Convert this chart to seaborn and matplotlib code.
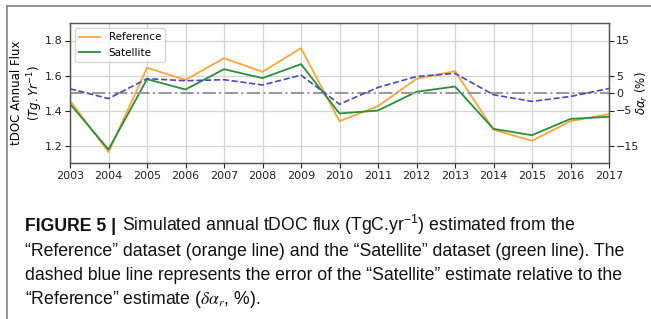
import matplotlib
matplotlib.use("Agg")
import matplotlib.pyplot as plt
import seaborn as sns
import pandas as pd
from matplotlib.lines import Line2D

years = [2003, 2004, 2005, 2006, 2007, 2008, 2009, 2010, 2011, 2012, 2013, 2014, 2015, 2016, 2017]
reference = [1.457, 1.162, 1.644, 1.575, 1.699, 1.621, 1.756, 1.339, 1.425, 1.581, 1.625, 1.290, 1.227, 1.339, 1.379]
satellite = [1.438, 1.177, 1.579, 1.520, 1.636, 1.585, 1.665, 1.383, 1.400, 1.507, 1.537, 1.295, 1.259, 1.352, 1.364]
rel_error = [1.2, -1.6, 4.1, 3.5, 3.8, 2.3, 5.1, -3.2, 1.6, 4.7, 5.6, -0.5, -2.4, -1.0, 1.3]
left_ticks = [1.2, 1.4, 1.6, 1.8]
right_ticks = [-15, -5, 0, 5, 15]
series_names = ["Reference", "Satellite"]

caption_head = "FIGURE 5 |"
caption_lines = [
    "Simulated annual tDOC flux (TgC.yr$^{-1}$) estimated from the",
    "\u201cReference\u201d dataset (orange line) and the \u201cSatellite\u201d dataset (green line). The",
    "dashed blue line represents the error of the \u201cSatellite\u201d estimate relative to the",
    "\u201cReference\u201d estimate ($\\delta\\alpha_r$, %).",
]

cap_font = "Liberation Sans"
plt.rcParams["mathtext.fontset"] = "dejavusans"
plt.rcParams["mathtext.rm"] = cap_font
plt.rcParams["mathtext.it"] = cap_font + ":italic"
plt.rcParams["mathtext.bf"] = cap_font + ":bold"

orange = "#ffa533"
green = "#2a8f3a"
blue = "#4848c2"
W, H = 651, 319

fig = plt.figure(figsize=(W / 100, H / 100), dpi=100)
ax = fig.add_axes([70 / W, 1 - 163 / H, 539 / W, 140 / H])

df = pd.DataFrame({"year": years, "Reference": reference, "Satellite": satellite})
sns.lineplot(data=df, x="year", y="Reference", ax=ax, color=orange, lw=1.3, label=series_names[0])
sns.lineplot(data=df, x="year", y="Satellite", ax=ax, color=green, lw=1.3, label=series_names[1])
ax.set_xlim(years[0], years[-1])
ax.set_ylim(1.1, 1.9)
ax.set_xticks(years)
ax.set_yticks(left_ticks)
ax.set_xlabel("")
ax.set_ylabel("tDOC Annual Flux\n$(Tg.Yr^{-1})$", fontsize=8.5)
ax.yaxis.set_label_coords(-25 / 539, 0.5)
ax.tick_params(labelsize=8, length=3.5, width=0.8, pad=2, colors="#222222")
ax.grid(True, color="#d4d4d4", lw=0.9)
ax.set_axisbelow(True)
for s in ax.spines.values():
    s.set_color("#555555")
    s.set_linewidth(0.9)
leg = ax.legend(loc="upper left", fontsize=7.5, frameon=True)

ax2 = ax.twinx()
ax2.axhline(0, color="#9a9a9a", ls="-.", lw=1.5, zorder=1)
sns.lineplot(x=years, y=rel_error, ax=ax2, color=blue, ls="--", lw=1.2, zorder=2)
ax2.set_ylim(-20, 20)
ax2.set_yticks(right_ticks)
ax2.set_yticklabels([f"{t}".replace("-", "\u2212") for t in right_ticks])
ax2.set_ylabel(r"$\delta\alpha_r$ (%)", fontsize=8.5)
ax2.yaxis.set_label_coords(1 + 25 / 539, 0.5)
ax2.tick_params(labelsize=8, length=3.5, width=0.8, pad=1.5, colors="#222222")
for s in ax2.spines.values():
    s.set_color("#555555")
    s.set_linewidth(0.9)

# frame lines
fig.add_artist(Line2D([7 / W, 1.0], [1 - 6 / H, 1 - 6 / H], color="#808080", lw=1.2, transform=fig.transFigure))
fig.add_artist(Line2D([7 / W, 7 / W], [1 - 6 / H, 0.0], color="#808080", lw=1.2, transform=fig.transFigure))

# caption: fit the font size so that line 2 spans the same width as the reference
renderer = fig.canvas.get_renderer()
probe = fig.text(0, 0, caption_lines[1], family=cap_font, fontsize=12)
w12 = probe.get_window_extent(renderer).width
probe.remove()
cap_size = 12 * 600 / w12

baselines = [231, 255.5, 280, 304.5]
x0 = 25 / W
head = fig.text(x0, 1 - baselines[0] / H, caption_head, family=cap_font, weight="bold",
                fontsize=cap_size, va="baseline", color="#111111")
hw = head.get_window_extent(renderer).x1
fig.text((hw + 6) / W, 1 - baselines[0] / H, caption_lines[0], family=cap_font, fontsize=cap_size,
         va="baseline", color="#111111", math_fontfamily="custom")
for i in range(1, 4):
    fig.text(x0, 1 - baselines[i] / H, caption_lines[i], family=cap_font, fontsize=cap_size,
             va="baseline", color="#111111", math_fontfamily="stix" if i == 3 else "custom")

fig.savefig("out.png", dpi=100)
